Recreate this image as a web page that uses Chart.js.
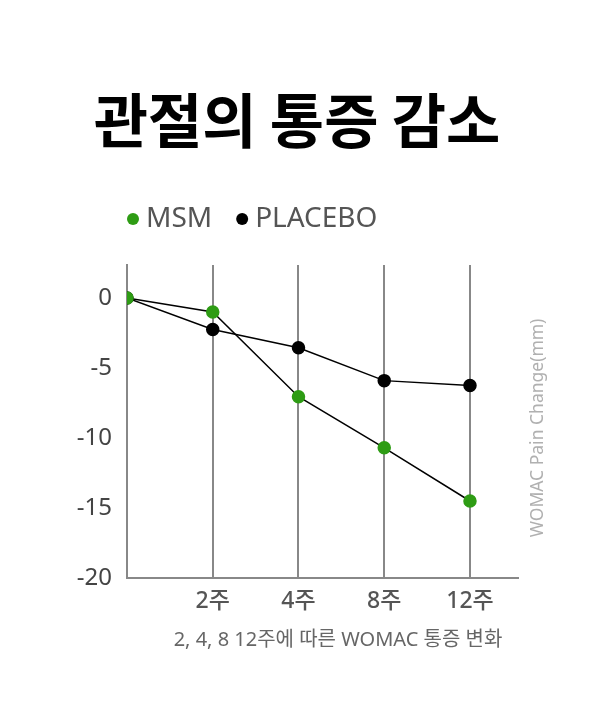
<!DOCTYPE html>
<html>
<head>
<meta charset="utf-8">
<script src="https://cdn.jsdelivr.net/npm/chart.js@4"></script>
<style>
  html, body { margin: 0; padding: 0; background: #fff; }
  #wrap { width: 611px; height: 704px; }
</style>
</head>
<body>
<div id="wrap"><canvas id="pain-chart" width="611" height="704"></canvas></div>
<script>
// chart data
const weeks = ['', '2주', '4주', '8주', '12주'];
const msmValues = [0, -1.0, -7.05, -10.7, -14.5];
const placeboValues = [0, -2.25, -3.55, -5.9, -6.25];
const yTicks = [-20, -15, -10, -5, 0];

const titleText = '관절의 통증 감소';
const footText = '2, 4, 8 12주에 따른 WOMAC 통증 변화';
const axisText = 'WOMAC Pain Change(mm)';

const latin = "'Noto Sans', 'Noto Sans CJK KR', sans-serif";

// draws title, legend, footer and the rotated axis title
const textPlugin = {
    id: 'texts',
    afterDraw(chart) {
        const ctx = chart.ctx;
        ctx.save();
        ctx.textBaseline = 'middle';

        ctx.fillStyle = '#000';
        ctx.textAlign = 'center';
        ctx.font = "bold 59px 'Noto Sans CJK KR', sans-serif";
        ctx.fillText(titleText, 297, 121);

        // legend
        ctx.font = '28px ' + latin;
        ctx.textAlign = 'left';
        let x = 133;
        chart.data.datasets.forEach(ds => {
            ctx.fillStyle = ds.pointBackgroundColor;
            ctx.beginPath();
            ctx.arc(x, 219, 6, 0, Math.PI * 2);
            ctx.fill();
            ctx.fillStyle = '#555';
            ctx.fillText(ds.label, x + 13, 219);
            x += 13 + ctx.measureText(ds.label).width + 30;
        });

        ctx.font = '20px ' + latin;
        ctx.fillStyle = '#666';
        ctx.textAlign = 'center';
        ctx.fillText(footText, 338, 640);

        ctx.translate(538, 428);
        ctx.rotate(-Math.PI / 2);
        ctx.font = '17.5px ' + latin;
        ctx.fillStyle = '#b0b0b0';
        ctx.fillText(axisText, 0, 0);
        ctx.restore();
    }
};

const ctx = document.getElementById('pain-chart').getContext('2d');
new Chart(ctx, {
    type: 'line',
    data: {
        datasets: [{
            label: 'MSM',
            data: msmValues.map((v, i) => ({ x: i, y: v })),
            borderColor: '#000',
            borderWidth: 1.5,
            pointBackgroundColor: '#2e9c14',
            pointBorderColor: '#2e9c14',
            pointRadius: 6,
            tension: 0
        }, {
            label: 'PLACEBO',
            data: placeboValues.map((v, i) => ({ x: i, y: v })),
            borderColor: '#000',
            borderWidth: 1.5,
            pointBackgroundColor: '#000',
            pointBorderColor: '#000',
            pointRadius: 6,
            tension: 0
        }]
    },
    options: {
        responsive: false,
        animation: false,
        layout: { padding: { left: 47, right: 93, top: 265, bottom: 76 } },
        plugins: {
            legend: { display: false },
            title: { display: false },
            tooltip: { enabled: false }
        },
        scales: {
            x: {
                type: 'linear',
                min: 0,
                max: 4.56,
                afterBuildTicks: s => { s.ticks = weeks.map((w, i) => ({ value: i })); },
                afterFit: s => { s.height = 50; },
                ticks: {
                    callback: v => weeks[v] || '',
                    color: '#555',
                    font: { size: 23, family: latin, weight: '500' },
                    padding: 10
                },
                grid: { color: '#888', lineWidth: 2, drawTicks: false },
                border: { color: '#888', width: 2 }
            },
            y: {
                min: -20,
                max: 2.36,
                afterBuildTicks: s => { s.ticks = yTicks.map(v => ({ value: v })); },
                afterFit: s => { s.width = 80; },
                ticks: {
                    color: '#444',
                    font: { size: 24, family: latin },
                    padding: 15
                },
                grid: { display: false, drawTicks: false },
                border: { color: '#888', width: 2 }
            }
        }
    },
    plugins: [textPlugin]
});
</script>
</body>
</html>
